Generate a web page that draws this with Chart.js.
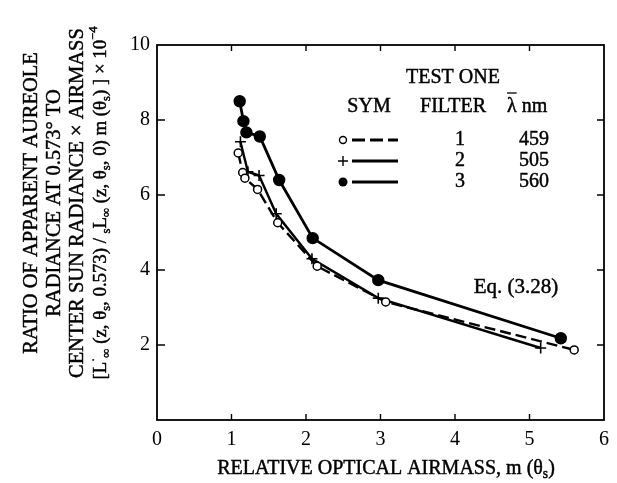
<!DOCTYPE html>
<html>
<head>
<meta charset="utf-8">
<script src="https://cdn.jsdelivr.net/npm/chart.js@4.4.1/dist/chart.umd.min.js"></script>
<style>
html,body{margin:0;padding:0;background:#fff;}
#wrap{width:617px;height:483px;}
</style>
</head>
<body>
<div id="wrap"><canvas id="c" width="617" height="483"></canvas></div>
<script>
// ---- data ----
const filter1 = [ // SYM open circle, dashed, 459 nm
  {x:1.09,y:7.12},{x:1.15,y:6.60},{x:1.18,y:6.45},{x:1.35,y:6.15},
  {x:1.62,y:5.26},{x:2.15,y:4.10},{x:3.07,y:3.15},{x:5.60,y:1.87}
];
const filter2 = [ // SYM plus, solid, 505 nm
  {x:1.12,y:7.42},{x:1.22,y:6.62},{x:1.37,y:6.52},{x:1.60,y:5.50},
  {x:2.08,y:4.30},{x:2.97,y:3.25},{x:5.15,y:1.92}
];
const filter3 = [ // SYM filled circle, solid, 560 nm
  {x:1.11,y:8.50},{x:1.16,y:7.97},{x:1.20,y:7.67},{x:1.38,y:7.56},
  {x:1.64,y:6.40},{x:2.09,y:4.85},{x:2.97,y:3.73},{x:5.42,y:2.18}
];
const xTicks = [0,1,2,3,4,5,6];
const yTicks = [2,4,6,8,10];
const legendRows = [
  {filter:'1', lambda:'459'},
  {filter:'2', lambda:'505'},
  {filter:'3', lambda:'560'}
];

const SERIF = '"Liberation Serif", "DejaVu Serif", serif';

function drawRich(ctx, segs, x, y, size, align){
  const sizes = {n:size, sub:size*0.68, sup:size*0.68};
  const offs = {n:0, sub:size*0.28, sup:-size*0.38};
  let total = 0;
  segs.forEach(s=>{ctx.font = sizes[s[1]]+'px '+SERIF; total += ctx.measureText(s[0]).width;});
  let cx = align==='center' ? x-total/2 : x;
  ctx.textAlign='left';
  segs.forEach(s=>{
    ctx.font = sizes[s[1]]+'px '+SERIF;
    ctx.fillText(s[0], cx, y+offs[s[1]]);
    ctx.strokeText(s[0], cx, y+offs[s[1]]);
    cx += ctx.measureText(s[0]).width;
  });
}
function txt(ctx, s, x, y){ ctx.fillText(s,x,y); ctx.strokeText(s,x,y); }

const framePlugin = {
  id:'frame',
  afterDraw(chart){
    const ctx = chart.ctx, a = chart.chartArea;
    const xs = chart.scales.x, ys = chart.scales.y;
    ctx.save();
    ctx.strokeStyle='#000'; ctx.lineWidth=1.8;
    ctx.strokeRect(a.left, a.top, a.right-a.left, a.bottom-a.top);
    ctx.lineWidth=1.4;
    ctx.beginPath();
    xTicks.slice(1,-1).forEach(v=>{
      const px = xs.getPixelForValue(v);
      ctx.moveTo(px,a.bottom); ctx.lineTo(px,a.bottom-6);
      ctx.moveTo(px,a.top); ctx.lineTo(px,a.top+6);
    });
    yTicks.slice(0,-1).forEach(v=>{
      const py = ys.getPixelForValue(v);
      ctx.moveTo(a.left,py); ctx.lineTo(a.left+8,py);
      ctx.moveTo(a.right,py); ctx.lineTo(a.right-7,py);
    });
    ctx.stroke();

    ctx.fillStyle='#000';
    ctx.textBaseline='middle';
    ctx.lineWidth=0.45;
    // x title
    drawRich(ctx, [['RELATIVE OPTICAL AIRMASS, m (θ','n'],['s','sub'],[')','n']], 386, 469, 20, 'center');
    // y title (rotated)
    const yLines = [
      [['RATIO OF APPARENT AUREOLE','n']],
      [['RADIANCE AT 0.573° TO','n']],
      [['CENTER SUN RADIANCE × AIRMASS','n']],
      [['[L','n'],['·','sup'],['∞','sub'],[' (z, θ','n'],['s','sub'],[', 0.573) / ','n'],['s','sub'],['L','n'],['∞','sub'],[' (z, θ','n'],['s','sub'],[', 0) m (θ','n'],['s','sub'],[') ] × 10','n'],['−4','sup']]
    ];
    const xPos = [32,55,78,101];
    const ySize = [20.5,20.5,20.5,18.8];
    yLines.forEach((l,i)=>{
      ctx.save();
      ctx.translate(xPos[i], 203);
      ctx.rotate(-Math.PI/2);
      drawRich(ctx, l, 0, 0, ySize[i], 'center');
      ctx.restore();
    });
    // annotation
    ctx.font='21px '+SERIF; ctx.textAlign='center';
    txt(ctx,'Eq. (3.28)', 516, 287);
    // legend block
    ctx.font='20px '+SERIF;
    txt(ctx,'TEST ONE', 453, 78);
    txt(ctx,'SYM', 369, 107);
    txt(ctx,'FILTER', 453, 107);
    ctx.textAlign='left';
    txt(ctx,'λ', 507, 107);
    const lw = ctx.measureText('λ').width;
    txt(ctx,' nm', 507+lw, 107);
    ctx.lineWidth=1.3;
    ctx.beginPath(); ctx.moveTo(507,93); ctx.lineTo(507+lw,93); ctx.stroke();
    ctx.textAlign='center';
    const rowY = [140,161,182];
    legendRows.forEach((r,i)=>{
      const y = rowY[i];
      ctx.lineWidth=0.45;
      txt(ctx,r.filter, 460, y);
      txt(ctx,r.lambda, 534, y);
      ctx.lineWidth = 3;
      ctx.setLineDash(i===0 ? [13,5] : []);
      ctx.beginPath(); ctx.moveTo(352,y); ctx.lineTo(398,y); ctx.stroke();
      ctx.setLineDash([]);
      ctx.lineWidth=1.4;
      if(i===0){ctx.beginPath();ctx.arc(343,y,3.5,0,Math.PI*2);ctx.fillStyle='#fff';ctx.fill();ctx.stroke();ctx.fillStyle='#000';}
      if(i===1){ctx.beginPath();ctx.moveTo(338,y);ctx.lineTo(348,y);ctx.moveTo(343,y-5);ctx.lineTo(343,y+5);ctx.stroke();}
      if(i===2){ctx.beginPath();ctx.arc(343,y,4.5,0,Math.PI*2);ctx.fill();}
    });
    ctx.restore();
  }
};

new Chart(document.getElementById('c'), {
  type:'scatter',
  data:{datasets:[
    {label:'1', data:filter1, showLine:true, borderColor:'#000', borderWidth:2.4, borderDash:[11,5],
     pointStyle:'circle', pointRadius:4, pointBackgroundColor:'#fff', pointBorderColor:'#000', pointBorderWidth:1.5},
    {label:'2', data:filter2, showLine:true, borderColor:'#000', borderWidth:2.4,
     pointStyle:'cross', pointRadius:5.5, pointBorderColor:'#000', pointBorderWidth:1.6},
    {label:'3', data:filter3, showLine:true, borderColor:'#000', borderWidth:2.8,
     pointStyle:'circle', pointRadius:4.8, pointBackgroundColor:'#000', pointBorderColor:'#000'}
  ]},
  options:{
    responsive:false, animation:false,
    layout:{padding:{left:0,right:8,top:45,bottom:0}},
    plugins:{legend:{display:false}, tooltip:{enabled:false}},
    scales:{
      x:{type:'linear', min:0, max:6,
         afterBuildTicks(s){s.ticks = xTicks.map(v=>({value:v}));},
         afterFit(s){s.height=63;},
         grid:{display:false, drawTicks:false},
         border:{display:false},
         ticks:{color:'#000', padding:8, font:{family:SERIF, size:20}, maxRotation:0, autoSkip:false}},
      y:{type:'linear', min:0, max:10,
         afterBuildTicks(s){s.ticks = yTicks.map(v=>({value:v}));},
         afterFit(s){s.width=157;},
         grid:{display:false, drawTicks:false},
         border:{display:false},
         ticks:{color:'#000', padding:7, font:{family:SERIF, size:20}}}
    }
  },
  plugins:[framePlugin]
});
</script>
</body>
</html>
